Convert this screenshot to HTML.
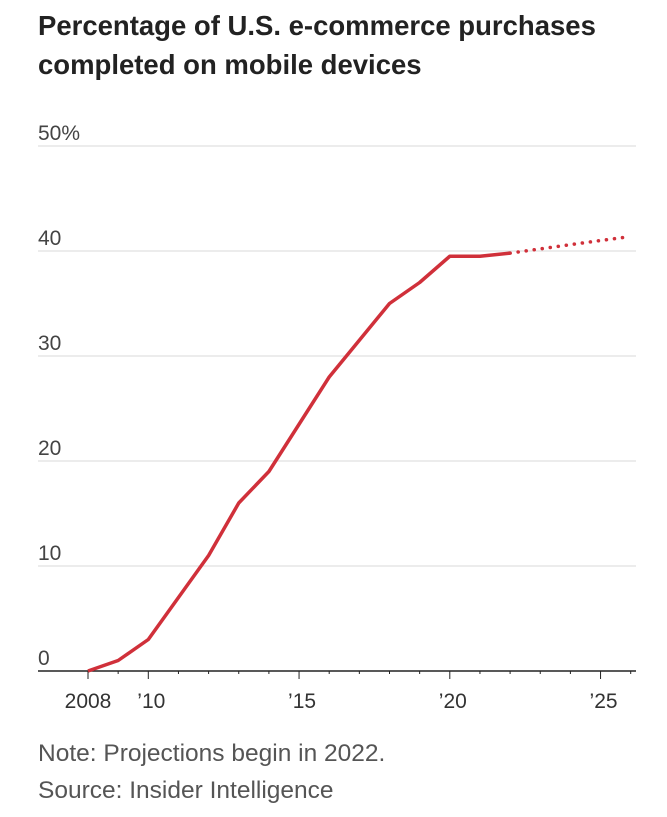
<!DOCTYPE html>
<html><head><meta charset="utf-8"><style>
body{margin:0;background:#fff;width:667px;height:817px;overflow:hidden;font-family:"Liberation Sans",sans-serif}
h1{position:absolute;left:38px;top:6px;margin:0;font-size:27.5px;line-height:39px;font-weight:bold;color:#222}
.note{position:absolute;left:38px;font-size:24.5px;color:#555;white-space:nowrap}
</style></head><body>
<h1>Percentage of U.S. e-commerce purchases<br>completed on mobile devices</h1>
<svg id="c" width="667" height="817" style="position:absolute;left:0;top:0"></svg>
<div class="note" style="top:740px">Note: Projections begin in 2022.</div>
<div class="note" style="top:777px">Source: Insider Intelligence</div>
<script>
const years=[2008,2009,2010,2011,2012,2013,2014,2015,2016,2017,2018,2019,2020,2021,2022];
const values=[0,1,3,7,11,16,19,23.5,28,31.5,35,37,39.5,39.5,39.8];
const projYears=[2022,2023,2024,2025,2025.8];
const projValues=[39.8,40.2,40.6,41,41.3];
const yTicks=[0,10,20,30,40,50];
const yTickLabels=["0","10","20","30","40","50%"];
const xMajor=[2008,2010,2015,2020,2025];
const xLabels=["2008","\u201910","\u201915","\u201920","\u201925"];
const ns="http://www.w3.org/2000/svg",svg=document.getElementById('c');
const X=y=>88+(y-2008)*30.15, Y=v=>671-v*10.5;
function mk(t,a){const e=document.createElementNS(ns,t);for(const k in a)e.setAttribute(k,a[k]);svg.appendChild(e);return e;}
yTicks.forEach((v,i)=>{
 if(v>0){const g=mk('line',{x1:38,x2:636,y1:Y(v),y2:Y(v),stroke:'#d8d8d8','stroke-width':1});
 
 }
 const t=mk('text',{x:38,y:Y(v)-6,'font-size':21,fill:'#444','font-family':'Liberation Sans, sans-serif'});
 t.textContent=yTickLabels[i];
 
 
});
const ax=mk('line',{x1:38,x2:636,y1:671,y2:671,stroke:'#222','stroke-width':1.5});


for(let y=2008;y<=2026;y++){const maj=xMajor.includes(y);
 const tk=mk('line',{x1:X(y),x2:X(y),y1:671,y2:maj?679:674,stroke:'#222','stroke-width':1});
 
 }
xMajor.forEach((y,i)=>{const t=mk('text',{x:X(y)+(i==0?0:3),y:708,'font-size':21,fill:'#333','text-anchor':'middle','font-family':'Liberation Sans, sans-serif'});
 t.textContent=xLabels[i];
 
 });
const l=mk('polyline',{points:years.map((y,i)=>X(y)+','+Y(values[i])).join(' '),fill:'none',stroke:'#d0303a','stroke-width':3.5,'stroke-linejoin':'round'});


const p=mk('polyline',{points:projYears.map((y,i)=>X(y)+','+Y(projValues[i])).join(' '),fill:'none',stroke:'#d0303a','stroke-width':3.5,'stroke-dasharray':'0.1 8','stroke-linecap':'round'});


</script>
</body></html>
